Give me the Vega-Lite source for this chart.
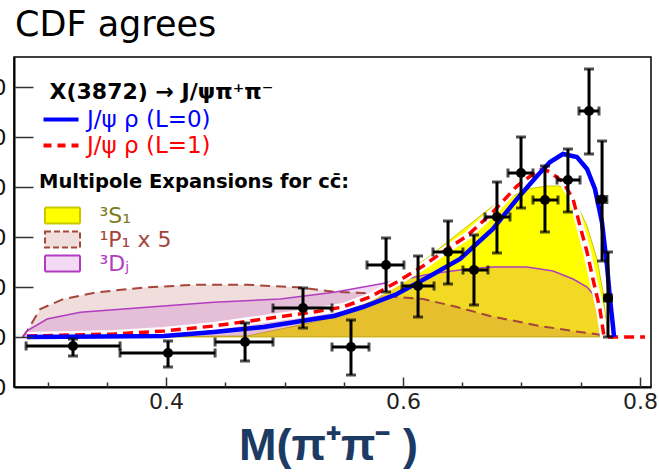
{
  "$schema": "https://vega.github.io/schema/vega-lite/v6.json",
  "width": 637,
  "height": 330,
  "autosize": "none",
  "padding": {"left": 14, "top": 57, "right": 8, "bottom": 86},
  "background": "white",
  "config": {"font": "DejaVu Sans", "view": {"stroke": "black", "strokeWidth": 1.5}},
  "title": {"text": "CDF agrees", "anchor": "start", "frame": "group", "fontSize": 35, "fontWeight": "normal", "color": "black", "baseline": "alphabetic", "offset": 24, "dy": 38, "dx": 1},
  "resolve": {"axis": {"x": "independent", "y": "independent"}},
  "datasets": {
    "points": [
      {"x": 0.3215, "xlo": 0.2819, "xhi": 0.3612, "y": -3.6, "ylo": -7.6, "yhi": -0.8},
      {"x": 0.4017, "xlo": 0.3612, "xhi": 0.4414, "y": -6.4, "ylo": -12.0, "yhi": -1.6},
      {"x": 0.4667, "xlo": 0.4414, "xhi": 0.4903, "y": -2.0, "ylo": -9.6, "yhi": 5.6},
      {"x": 0.5156, "xlo": 0.4903, "xhi": 0.5401, "y": 11.6, "ylo": 3.6, "yhi": 19.6},
      {"x": 0.5561, "xlo": 0.5401, "xhi": 0.5713, "y": -4.0, "ylo": -15.2, "yhi": 6.8},
      {"x": 0.5857, "xlo": 0.5696, "xhi": 0.6008, "y": 28.8, "ylo": 18.0, "yhi": 39.6},
      {"x": 0.6127, "xlo": 0.5992, "xhi": 0.6262, "y": 20.4, "ylo": 8.0, "yhi": 32.4},
      {"x": 0.638, "xlo": 0.6253, "xhi": 0.6506, "y": 34.0, "ylo": 21.2, "yhi": 46.4},
      {"x": 0.6599, "xlo": 0.6506, "xhi": 0.6717, "y": 26.8, "ylo": 12.8, "yhi": 40.8},
      {"x": 0.6793, "xlo": 0.6692, "xhi": 0.6903, "y": 48.0, "ylo": 33.6, "yhi": 62.0},
      {"x": 0.6996, "xlo": 0.6886, "xhi": 0.7097, "y": 65.6, "ylo": 51.6, "yhi": 80.0},
      {"x": 0.7198, "xlo": 0.7097, "xhi": 0.7308, "y": 54.8, "ylo": 42.0, "yhi": 68.4},
      {"x": 0.7392, "xlo": 0.73, "xhi": 0.7494, "y": 62.8, "ylo": 50.0, "yhi": 75.2},
      {"x": 0.757, "xlo": 0.7485, "xhi": 0.7654, "y": 90.4, "ylo": 73.2, "yhi": 107.2},
      {"x": 0.768, "xlo": 0.764, "xhi": 0.772, "y": 55.0, "ylo": 30.4, "yhi": 78.4},
      {"x": 0.773, "xlo": 0.77, "xhi": 0.776, "y": 15.6, "ylo": 0.0, "yhi": 34.0}
    ],
    "blue": [
      {"x": 0.2827, "y": 0}, {"x": 0.3443, "y": 0.2}, {"x": 0.3983, "y": 0.4}, {"x": 0.4405, "y": 2.0},
      {"x": 0.4827, "y": 4.0}, {"x": 0.5249, "y": 7.2}, {"x": 0.5418, "y": 8.4}, {"x": 0.5662, "y": 12.0},
      {"x": 0.5949, "y": 17.2}, {"x": 0.6228, "y": 24.4}, {"x": 0.6481, "y": 31.2}, {"x": 0.6759, "y": 43.2},
      {"x": 0.6962, "y": 55.2}, {"x": 0.7131, "y": 64.4}, {"x": 0.7241, "y": 70.0}, {"x": 0.735, "y": 73.2},
      {"x": 0.7468, "y": 72.0}, {"x": 0.7553, "y": 67.2}, {"x": 0.762, "y": 59.2}, {"x": 0.7679, "y": 46.0},
      {"x": 0.7722, "y": 28.4}, {"x": 0.7747, "y": 15.2}, {"x": 0.7772, "y": 4.4}, {"x": 0.7781, "y": 0}
    ],
    "red": [
      {"x": 0.2827, "y": 0.4}, {"x": 0.3561, "y": 1.2}, {"x": 0.3983, "y": 2.4}, {"x": 0.4405, "y": 4.4},
      {"x": 0.4827, "y": 7.2}, {"x": 0.5249, "y": 10.0}, {"x": 0.5494, "y": 12.0}, {"x": 0.5722, "y": 16.0},
      {"x": 0.5949, "y": 22.0}, {"x": 0.6169, "y": 28.4}, {"x": 0.6371, "y": 35.2}, {"x": 0.654, "y": 40.4},
      {"x": 0.6759, "y": 50.0}, {"x": 0.6962, "y": 60.4}, {"x": 0.7131, "y": 66.4}, {"x": 0.7181, "y": 67.2},
      {"x": 0.7241, "y": 66.0}, {"x": 0.735, "y": 62.0}, {"x": 0.7435, "y": 55.2}, {"x": 0.7494, "y": 44.4},
      {"x": 0.7553, "y": 34.0}, {"x": 0.7603, "y": 23.2}, {"x": 0.7662, "y": 11.2}, {"x": 0.7696, "y": 0.4},
      {"x": 0.7713, "y": 0}, {"x": 0.8042, "y": 0}
    ],
    "s1": [
      {"x": 0.2827, "y": 0}, {"x": 0.3983, "y": 0.2}, {"x": 0.4684, "y": 0.4}, {"x": 0.497, "y": 3.2},
      {"x": 0.5249, "y": 6.0}, {"x": 0.5418, "y": 8.0}, {"x": 0.589, "y": 21.2}, {"x": 0.6228, "y": 32.4},
      {"x": 0.6481, "y": 42.0}, {"x": 0.6759, "y": 52.4}, {"x": 0.7046, "y": 59.2}, {"x": 0.7215, "y": 60.4},
      {"x": 0.7325, "y": 60.4}, {"x": 0.7435, "y": 56.4}, {"x": 0.7553, "y": 44.4}, {"x": 0.7637, "y": 31.2},
      {"x": 0.7688, "y": 18.0}, {"x": 0.7722, "y": 2.0}, {"x": 0.773, "y": 0}
    ],
    "p1": [
      {"x": 0.279, "y": 0}, {"x": 0.2827, "y": 2.4}, {"x": 0.2939, "y": 11.2}, {"x": 0.3136, "y": 15.2},
      {"x": 0.3417, "y": 17.9}, {"x": 0.3839, "y": 19.9}, {"x": 0.4261, "y": 20.9}, {"x": 0.4683, "y": 20.9},
      {"x": 0.5105, "y": 19.9}, {"x": 0.5418, "y": 18.1}, {"x": 0.5662, "y": 17.6}, {"x": 0.5949, "y": 16.0},
      {"x": 0.6169, "y": 15.2}, {"x": 0.6456, "y": 12.0}, {"x": 0.6734, "y": 8.4}, {"x": 0.7156, "y": 4.4},
      {"x": 0.7494, "y": 2.0}, {"x": 0.7747, "y": 0.4}, {"x": 0.7764, "y": 0}
    ],
    "dj": [
      {"x": 0.279, "y": 0}, {"x": 0.2827, "y": 2.5}, {"x": 0.2996, "y": 7.2}, {"x": 0.3277, "y": 9.9},
      {"x": 0.3839, "y": 11.9}, {"x": 0.4402, "y": 13.9}, {"x": 0.4965, "y": 15.2}, {"x": 0.5418, "y": 17.9},
      {"x": 0.5806, "y": 21.2}, {"x": 0.6228, "y": 25.2}, {"x": 0.654, "y": 27.2}, {"x": 0.6759, "y": 28.0},
      {"x": 0.7046, "y": 28.0}, {"x": 0.7266, "y": 26.4}, {"x": 0.7435, "y": 23.2}, {"x": 0.7553, "y": 20.0},
      {"x": 0.7603, "y": 17.2}, {"x": 0.7646, "y": 12.0}, {"x": 0.7688, "y": 2.0}, {"x": 0.7713, "y": 0}
    ]
  },
  "layer": [
    {
      "data": {"name": "s1"},
      "mark": {"type": "area", "stroke": "#c8c800", "strokeWidth": 1, "fillOpacity": 1},
      "encoding": {
        "x": {"field": "x", "type": "quantitative", "scale": {"domain": [0.2717, 0.8093], "nice": false, "zero": false},
          "axis": {"orient": "bottom", "values": [0.4, 0.6, 0.8], "format": ".1f", "ticks": false, "tickSize": 0, "labelFontSize": 22, "labelColor": "#222", "labelPadding": 4, "domain": true, "domainColor": "black", "domainWidth": 2, "grid": false,
            "title": "M(π⁺π⁻ )", "titleFont": "Liberation Sans", "titleFontSize": 45, "titleFontWeight": "bold", "titleColor": "#1c3a64", "titlePadding": 11, "titleX": 314}},
        "y": {"field": "y", "type": "quantitative", "scale": {"domain": [-20, 112], "nice": false, "zero": false},
          "axis": {"orient": "left", "values": [-20, 0, 20, 40, 60, 80, 100], "ticks": false, "tickSize": 0, "labelFontSize": 22, "labelColor": "#111", "labelPadding": 8, "domain": true, "domainColor": "black", "domainWidth": 2, "grid": false, "title": null}},
        "fill": {"datum": "³S₁", "type": "nominal",
          "scale": {"domain": ["³S₁", "¹P₁ x 5", "³Dⱼ"], "range": ["#ffff00", "rgba(170,70,60,0.18)", "rgba(185,50,200,0.18)"]},
          "legend": {"orient": "none", "legendX": 25, "legendY": 116, "padding": 0,
            "title": "Multipole Expansions for cc̄:", "titleFontSize": 19.5, "titleFontWeight": "bold", "titleColor": "black", "titlePadding": 12, "titleLimit": 500,
            "labelFontSize": 22, "labelOffset": 26, "labelLimit": 300, "rowPadding": 0,
            "symbolType": "M-3.5,-1.6H3.5V1.6H-3.5Z", "symbolSize": 100, "symbolStrokeWidth": 2, "symbolOpacity": 1, "symbolOffset": 12.5,
            "encoding": {
              "labels": {"fill": {"condition": [{"test": "datum.value === '³S₁'", "value": "#7c7c1c"}, {"test": "datum.value === '¹P₁ x 5'", "value": "#a5453c"}], "value": "#b23cc0"}},
              "symbols": {
                "stroke": {"condition": [{"test": "datum.value === '³S₁'", "value": "#c8c800"}, {"test": "datum.value === '¹P₁ x 5'", "value": "#a5453c"}], "value": "#b23cc0"},
                "strokeDash": {"condition": {"test": "datum.value === '¹P₁ x 5'", "value": [6, 3]}, "value": [1, 0]}
              }
            }}}
      }
    },
    {
      "data": {"name": "p1"},
      "mark": {"type": "area"},
      "encoding": {
        "x": {"field": "x", "type": "quantitative", "axis": {"orient": "bottom", "values": [0.4, 0.6, 0.8], "tickSize": -10, "tickWidth": 1.5, "tickColor": "#333", "labels": false, "domain": false, "grid": false, "title": null, "zindex": 1}},
        "y": {"field": "y", "type": "quantitative", "axis": {"orient": "left", "values": [0, 20, 40, 60, 80, 100], "tickSize": -19, "tickWidth": 1.5, "tickColor": "#333", "labels": false, "domain": false, "grid": false, "title": null, "zindex": 1}},
        "fill": {"datum": "¹P₁ x 5", "type": "nominal"}
      }
    },
    {
      "data": {"name": "dj"},
      "mark": {"type": "area"},
      "encoding": {
        "x": {"field": "x", "type": "quantitative", "axis": {"orient": "bottom", "values": [0.3, 0.35, 0.45, 0.5, 0.55, 0.65, 0.7, 0.75], "tickSize": -5, "tickWidth": 1.5, "tickColor": "#333", "labels": false, "domain": false, "grid": false, "title": null, "zindex": 1}},
        "y": {"field": "y", "type": "quantitative", "axis": null},
        "fill": {"datum": "³Dⱼ", "type": "nominal"}
      }
    },
    {
      "data": {"name": "p1"},
      "mark": {"type": "line", "stroke": "#a5453c", "strokeWidth": 2, "strokeDash": [10, 6]},
      "encoding": {"x": {"field": "x", "type": "quantitative", "axis": null}, "y": {"field": "y", "type": "quantitative", "axis": null}}
    },
    {
      "data": {"name": "dj"},
      "mark": {"type": "line", "stroke": "#b23cc0", "strokeWidth": 1.5},
      "encoding": {"x": {"field": "x", "type": "quantitative", "axis": null}, "y": {"field": "y", "type": "quantitative", "axis": null}}
    },
    {
      "data": {"name": "red"},
      "mark": {"type": "line", "stroke": "white", "strokeWidth": 8},
      "encoding": {"x": {"field": "x", "type": "quantitative", "axis": null}, "y": {"field": "y", "type": "quantitative", "axis": null}}
    },
    {
      "data": {"name": "red"},
      "mark": {"type": "line", "strokeWidth": 3.5, "strokeDash": [10, 6]},
      "encoding": {
        "x": {"field": "x", "type": "quantitative", "axis": null},
        "y": {"field": "y", "type": "quantitative", "axis": null},
        "stroke": {"datum": "J/ψ ρ (L=1)", "type": "nominal"}
      }
    },
    {
      "data": {"name": "blue"},
      "mark": {"type": "line", "strokeWidth": 4.5},
      "encoding": {
        "x": {"field": "x", "type": "quantitative", "axis": null},
        "y": {"field": "y", "type": "quantitative", "axis": null},
        "stroke": {"datum": "J/ψ ρ (L=0)", "type": "nominal",
          "scale": {"domain": ["J/ψ ρ (L=0)", "J/ψ ρ (L=1)"], "range": ["#0000ff", "#ff0000"]},
          "legend": {"orient": "none", "legendX": 35.5, "legendY": 25, "padding": 0,
            "title": "X(3872) → J/ψπ⁺π⁻", "titleFontSize": 22, "titleFontWeight": "bold", "titleColor": "black", "titlePadding": 4, "titleLimit": 500,
            "labelFontSize": 23, "labelOffset": 14.5, "labelLimit": 300, "rowPadding": 2,
            "symbolType": "M-3.5,0H3.5", "symbolSize": 100, "symbolStrokeWidth": 4, "symbolFillColor": "transparent",
            "encoding": {
              "labels": {"fill": {"condition": {"test": "datum.value === 'J/ψ ρ (L=0)'", "value": "#0000ff"}, "value": "#ff0000"}},
              "symbols": {"strokeDash": {"condition": {"test": "datum.value === 'J/ψ ρ (L=1)'", "value": [8, 6]}, "value": [1, 0]}}
            }}}
      }
    },
    {
      "mark": {"type": "rule", "color": "black", "strokeWidth": 2.5},
      "encoding": {"y": {"datum": 0, "type": "quantitative", "axis": null}}
    },
    {
      "data": {"name": "points"},
      "mark": {"type": "errorbar", "color": "black", "ticks": {"size": 10, "thickness": 3, "color": "black"}, "rule": {"strokeWidth": 3, "color": "black"}},
      "encoding": {
        "x": {"field": "x", "type": "quantitative", "axis": null},
        "y": {"field": "ylo", "type": "quantitative", "axis": null},
        "y2": {"field": "yhi"}
      }
    },
    {
      "data": {"name": "points"},
      "mark": {"type": "errorbar", "color": "black", "ticks": {"size": 9, "thickness": 3, "color": "black"}, "rule": {"strokeWidth": 3, "color": "black"}},
      "encoding": {
        "y": {"field": "y", "type": "quantitative", "axis": null},
        "x": {"field": "xlo", "type": "quantitative", "axis": null},
        "x2": {"field": "xhi"}
      }
    },
    {
      "data": {"name": "points"},
      "mark": {"type": "circle", "color": "black", "size": 100, "opacity": 1},
      "encoding": {
        "x": {"field": "x", "type": "quantitative", "axis": null},
        "y": {"field": "y", "type": "quantitative", "axis": null}
      }
    }
  ]
}
